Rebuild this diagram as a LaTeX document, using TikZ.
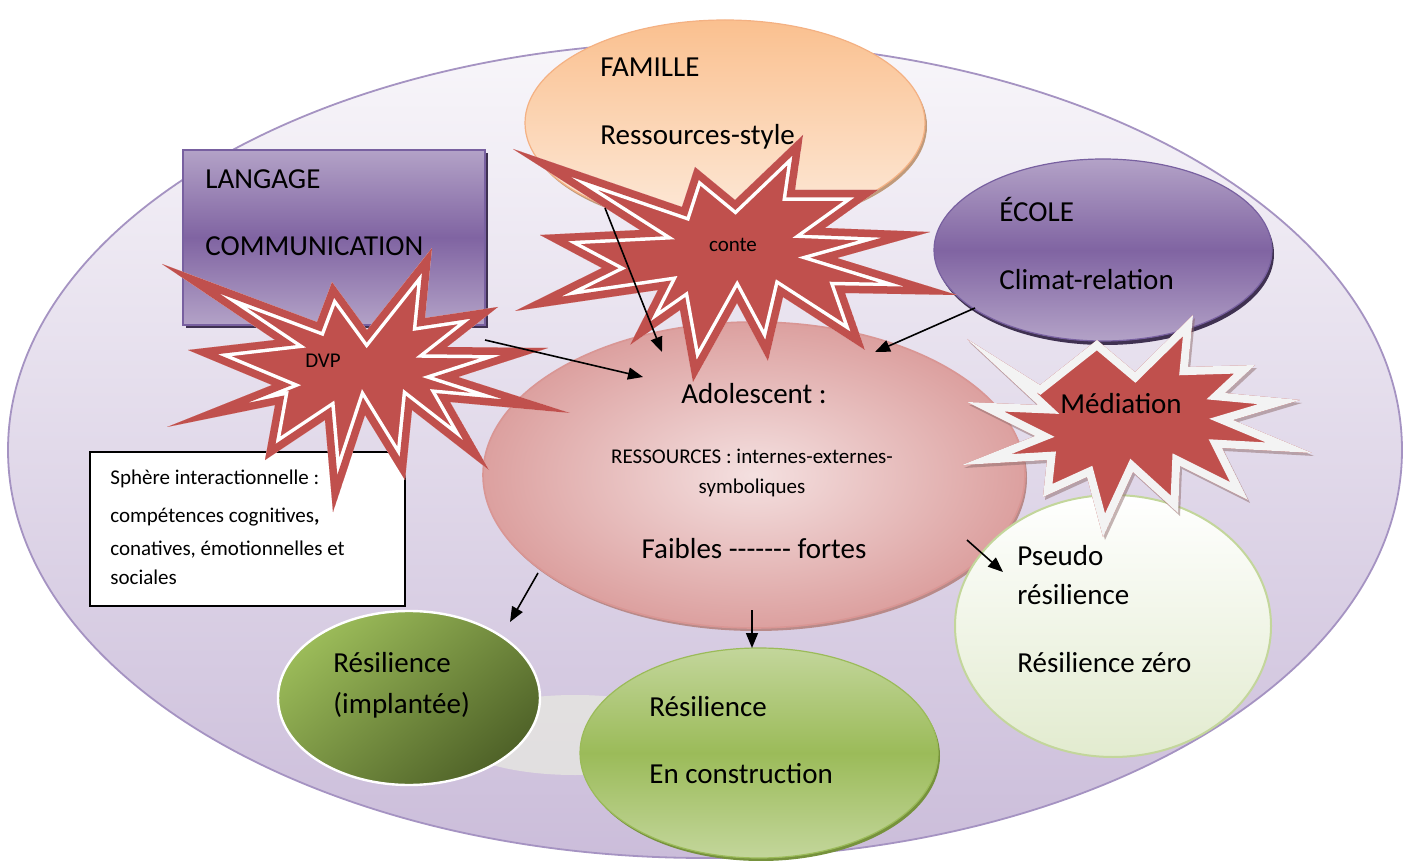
\documentclass[tikz,border=0pt]{standalone}
\usepackage{fontspec}
\setmainfont{Carlito}[Ligatures=TeXOff]
\usetikzlibrary{shapes.geometric,arrows.meta,shadings}
\definecolor{burst}{HTML}{C0504D}
\definecolor{bigTop}{HTML}{F8F6FA}
\definecolor{bigBot}{HTML}{CBBDDA}
\definecolor{bigLine}{HTML}{A593C2}
\definecolor{famTop}{HTML}{FAC08F}
\definecolor{famBot}{HTML}{FDEADA}
\definecolor{famLine}{HTML}{F4B183}
\definecolor{famShadow}{HTML}{C09A7A}
\definecolor{purpleMid}{HTML}{8064A2}
\definecolor{purpleLight}{HTML}{B3A2C7}
\definecolor{purpleDark}{HTML}{3F3151}
\definecolor{purpleLine}{HTML}{7860A0}
\definecolor{adoLine}{HTML}{D99694}
\definecolor{adoIn}{HTML}{F4E0E0}
\definecolor{adoOut}{HTML}{DCA09F}
\definecolor{adoShadow}{HTML}{B88A89}
\definecolor{pseBot}{HTML}{E2EBCF}
\definecolor{pseLine}{HTML}{C3D69B}
\definecolor{impLight}{HTML}{9BBB59}
\definecolor{impDark}{HTML}{4F6228}
\definecolor{conTop}{HTML}{C3D69B}
\definecolor{conMid}{HTML}{9BBB59}
\definecolor{conShadow}{HTML}{76923C}
\definecolor{medBand}{HTML}{F3F3F3}
\definecolor{medShadow}{HTML}{8C6A6A}
\definecolor{ghost}{HTML}{E9EBE1}
\newcommand\burstdouble[1]{%
  \begin{scope}
    \clip #1;
    \fill[burst] #1;
    \draw[white, line width=11pt, line join=miter, miter limit=25] #1;
    \draw[burst, line width=7.5pt, line join=miter, miter limit=25] #1;
  \end{scope}}
\newcommand\burstwhite[1]{%
  \begin{scope}[shift={(2,3)}]
    \fill[medShadow, opacity=.5] #1;
  \end{scope}
  \begin{scope}
    \clip #1;
    \fill[burst] #1;
    \draw[medBand, line width=8pt, line join=miter, miter limit=25] #1;
  \end{scope}}
\begin{document}
\begin{tikzpicture}[x=0.5pt,y=-0.5pt,
  big/.style={font=\fontsize{14.5}{17}\selectfont},
  small/.style={font=\fontsize{10.5}{12.5}\selectfont},
  txt/.style={anchor=base west, inner sep=0pt, big},
  ctxt/.style={anchor=base, inner sep=0pt, big},
  oval/.style={ellipse, inner sep=0pt},
  arr/.style={draw=black, line width=0.8pt, -{Triangle[length=7.5pt,width=6pt]}}]
\useasboundingbox (0,0) rectangle (1404,861);
\fill[white] (0,0) rectangle (1404,861);
\begin{scope}
\clip (0,0) rectangle (1404,861);
% outer world
\node[oval, draw=bigLine, line width=0.9pt, top color=bigTop, bottom color=bigBot,
      minimum width=697pt, minimum height=408pt] (monde) at (705,450) {};
% FAMILLE
\node[oval, fill=famShadow, minimum width=200pt, minimum height=103pt] (familleS) at (727,126) {};
\node[oval, draw=famLine, line width=0.6pt, top color=famTop, bottom color=famBot,
      minimum width=200pt, minimum height=103pt] (famille) at (725,123) {};
% LANGAGE
\node[rectangle, fill=purpleDark, minimum width=151pt, minimum height=87.5pt, inner sep=0pt] (langageS) at (337,241) {};
\node[rectangle, draw=purpleLine, line width=0.8pt, top color=purpleLight, bottom color=purpleLight, middle color=purpleMid,
      minimum width=151pt, minimum height=87.5pt, inner sep=0pt] (langage) at (334,237.5) {};
% ECOLE
\node[oval, fill=purpleDark, minimum width=169pt, minimum height=91pt] (ecoleS) at (1105,254) {};
\node[oval, draw=purpleLine, line width=0.6pt, top color=purpleLight, bottom color=purpleLight, middle color=purpleMid,
      minimum width=169pt, minimum height=91pt] (ecole) at (1103,250) {};
% Adolescent
\node[oval, fill=adoShadow, minimum width=271pt, minimum height=153pt] (adoS) at (756,478) {};
\node[oval, draw=adoLine, line width=0.8pt, inner color=adoIn, outer color=adoOut,
      minimum width=271pt, minimum height=153pt] (ado) at (754,475) {};
% ghost reflection
\node[oval, fill=ghost, opacity=.7, minimum width=125pt, minimum height=40pt] (reflet) at (575,735) {};
% Resilience implantee
\node[oval, draw=white, line width=1.2pt, top color=impLight, bottom color=impDark, shading angle=40,
      minimum width=131pt, minimum height=87pt] (implantee) at (409,698) {};
% Resilience en construction
\node[oval, fill=conShadow, minimum width=179pt, minimum height=105pt] (constrS) at (761,756) {};
\node[oval, draw=conMid, line width=0.6pt, top color=conTop, bottom color=conTop, middle color=conMid,
      minimum width=179pt, minimum height=105pt] (constr) at (759,753) {};
% Pseudo
\node[oval, draw=pseLine, line width=1pt, top color=white, bottom color=pseBot,
      minimum width=158pt, minimum height=131pt] (pseudo) at (1113,626) {};
% Sphere box
\node[rectangle, draw=black, line width=0.8pt, fill=white, minimum width=157.5pt, minimum height=77pt, inner sep=0pt] (sphere) at (247.5,529) {};
\node[anchor=base west, inner sep=0pt, small] (sph1) at (110,484) {Sphère interactionnelle :};
\node[anchor=base west, inner sep=0pt, small] (sph2) at (110,522) {compétences cognitives\textbf{,}};
\node[anchor=base west, inner sep=0pt, small] (sph3) at (110,555) {conatives, émotionnelles et};
\node[anchor=base west, inner sep=0pt, small] (sph4) at (110,584) {sociales};
% starbursts
\burstdouble{(513,149) -- (640,230) -- (540,235) -- (602,268) -- (515,311) -- (658,290) -- (630,345) -- (680,310) -- (693,382) -- (737,303) -- (768,361) -- (783,297) -- (865,350) -- (845,293) -- (957,295) -- (837,258) -- (930,232) -- (825,228) -- (878,190) -- (795,190) -- (803,135) -- (735,200) -- (695,167) -- (682,207) -- cycle}
\burstdouble{(162,264) -- (317,322) -- (332,282) -- (367,330) -- (432,248) -- (425,318) -- (498,307) -- (447,347) -- (548,348) -- (458,377) -- (570,413) -- (450,402) -- (489,470) -- (412,410) -- (405,480) -- (365,415) -- (333,512) -- (325,420) -- (265,460) -- (275,405) -- (167,427) -- (272,385) -- (188,350) -- (275,340) -- cycle}
\burstwhite{(967,339) -- (1040,385) -- (1097,340) -- (1135,372) -- (1193,315) -- (1188,367) -- (1255,365) -- (1225,393) -- (1300,400) -- (1233,420) -- (1312,453) -- (1222,448) -- (1248,500) -- (1180,466) -- (1178,513) -- (1133,472) -- (1103,537) -- (1087,477) -- (1043,497) -- (1047,460) -- (962,465) -- (1035,436) -- (967,402) -- (1038,405) -- cycle}
\node[anchor=base, inner sep=0pt, small] (conte) at (733,252) {conte};
\node[anchor=base, inner sep=0pt, small] (dvp) at (323,368) {DVP};
\node[ctxt] (mediation) at (1121,414) {Médiation};
% texts
\node[txt] (t1) at (600,77) {FAMILLE};
\node[txt] (t2) at (600,145) {Ressources-style};
\node[txt] (t3) at (205,189) {LANGAGE};
\node[txt] (t4) at (205,256) {COMMUNICATION};
\node[txt] (t5) at (999,222) {ÉCOLE};
\node[txt] (t6) at (999,290) {Climat-relation};
\node[ctxt] (t7) at (754,404) {Adolescent :};
\node[anchor=base, inner sep=0pt, small] (t8) at (752,464) {RESSOURCES : internes-externes-};
\node[anchor=base, inner sep=0pt, small] (t9) at (752,494) {symboliques};
\node[ctxt] (t10) at (754,558) {Faibles ------- fortes};
\node[txt] (t11) at (1017,565) {Pseudo};
\node[txt] (t12) at (1017,604) {résilience};
\node[txt] (t13) at (1017,672) {Résilience zéro};
\node[txt] (t14) at (333,672) {Résilience};
\node[txt] (t15) at (333,713) {(implantée)};
\node[txt] (t16) at (649,716) {Résilience};
\node[txt] (t17) at (649,783) {En construction};
% arrows
\coordinate (a1s) at (605,208); \coordinate (a1e) at (662,352);
\coordinate (a2s) at (485,340); \coordinate (a2e) at (643,377);
\coordinate (a3s) at (975,308); \coordinate (a3e) at (875,352);
\coordinate (a4s) at (538,573); \coordinate (a4e) at (510,622);
\coordinate (a5s) at (752,610); \coordinate (a5e) at (752,648);
\coordinate (a6s) at (967,540); \coordinate (a6e) at (1003,572);
\draw[arr] (a1s) -- (a1e);
\draw[arr] (a2s) -- (a2e);
\draw[arr] (a3s) -- (a3e);
\draw[arr] (a4s) -- (a4e);
\draw[arr] (a5s) -- (a5e);
\draw[arr] (a6s) -- (a6e);
\end{scope}
\end{tikzpicture}
\end{document}
